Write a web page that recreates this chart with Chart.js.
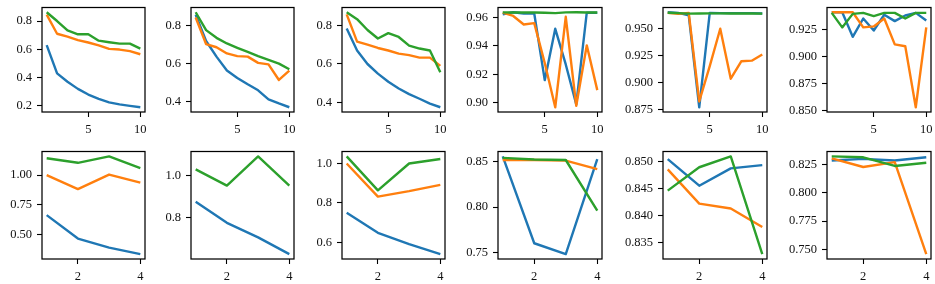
<!DOCTYPE html>
<html>
<head>
<meta charset="utf-8">
<script src="https://cdn.jsdelivr.net/npm/chart.js@4.4.1/dist/chart.umd.min.js"></script>
<style>
    html, body { margin: 0; padding: 0; background: #fff; }
    #fig { position: relative; width: 935px; height: 284px; overflow: hidden; }
    #fig canvas { position: absolute; }
</style>
</head>
<body>
<div id="fig"></div>
<script>
/* =========================================================
    DATOS
========================================================= */

const xLargo = [1, 2, 3, 4, 5, 6, 7, 8, 9, 10];
const xCorto = [1, 2, 3, 4];
const ticksXLargo = [5, 10];
const ticksXCorto = [2, 4];

// fila superior
const p1Azul    = [0.63, 0.43, 0.37, 0.32, 0.28, 0.25, 0.225, 0.21, 0.2, 0.19];
const p1Naranja = [0.845, 0.71, 0.69, 0.665, 0.648, 0.628, 0.603, 0.598, 0.587, 0.565];
const p1Verde   = [0.862, 0.8, 0.733, 0.706, 0.706, 0.661, 0.65, 0.64, 0.64, 0.605];
const p1TicksY  = [0.2, 0.4, 0.6, 0.8];
const p1Etiq    = ["0.2", "0.4", "0.6", "0.8"];

const p2Azul    = [0.86, 0.72, 0.637, 0.563, 0.524, 0.49, 0.458, 0.41, 0.388, 0.368];
const p2Naranja = [0.845, 0.704, 0.687, 0.654, 0.64, 0.637, 0.604, 0.596, 0.513, 0.563];
const p2Verde   = [0.873, 0.778, 0.737, 0.707, 0.684, 0.662, 0.64, 0.62, 0.6, 0.57];
const p2TicksY  = [0.4, 0.6, 0.8];
const p2Etiq    = ["0.4", "0.6", "0.8"];

const p3Azul    = [0.784, 0.67, 0.6, 0.55, 0.508, 0.473, 0.444, 0.42, 0.395, 0.376];
const p3Naranja = [0.857, 0.716, 0.7, 0.683, 0.67, 0.654, 0.646, 0.633, 0.633, 0.59];
const p3Verde   = [0.868, 0.832, 0.776, 0.732, 0.76, 0.74, 0.695, 0.68, 0.67, 0.557];
const p3TicksY  = [0.4, 0.6, 0.8];
const p3Etiq    = ["0.4", "0.6", "0.8"];

const p4Azul    = [0.9622, 0.9636, 0.9627, 0.9627, 0.916, 0.952, 0.927, 0.899, 0.9633, 0.9633];
const p4Naranja = [0.9633, 0.961, 0.955, 0.956, 0.928, 0.897, 0.9604, 0.898, 0.9404, 0.909];
const p4Verde   = [0.9635, 0.9634, 0.9634, 0.9634, 0.9633, 0.963, 0.9635, 0.9636, 0.9634, 0.9634];
const p4TicksY  = [0.90, 0.92, 0.94, 0.96];
const p4Etiq    = ["0.90", "0.92", "0.94", "0.96"];

const p5Azul    = [0.9653, 0.9647, 0.9624, 0.877, 0.9647, 0.9645, 0.9645, 0.9645, 0.9645, 0.9642];
const p5Naranja = [0.9647, 0.9638, 0.9647, 0.8824, 0.9153, 0.95, 0.9035, 0.9197, 0.9203, 0.926];
const p5Verde   = [0.9648, 0.9645, 0.964, 0.9642, 0.9643, 0.9643, 0.9642, 0.9642, 0.9642, 0.964];
const p5TicksY  = [0.875, 0.9, 0.925, 0.95];
const p5Etiq    = ["0.875", "0.900", "0.925", "0.950"];

const p6Azul    = [0.941, 0.941, 0.9183, 0.9352, 0.9241, 0.9387, 0.9328, 0.938, 0.9404, 0.9334];
const p6Naranja = [0.941, 0.941, 0.941, 0.927, 0.9279, 0.9352, 0.9113, 0.9096, 0.8532, 0.927];
const p6Verde   = [0.9404, 0.927, 0.9395, 0.9404, 0.9375, 0.9404, 0.9404, 0.9352, 0.9404, 0.9404];
const p6TicksY  = [0.85, 0.875, 0.9, 0.925];
const p6Etiq    = ["0.850", "0.875", "0.900", "0.925"];

// fila inferior
const p7Azul    = [0.664, 0.467, 0.39, 0.336];
const p7Naranja = [1.0, 0.883, 1.005, 0.937];
const p7Verde   = [1.142, 1.104, 1.158, 1.06];
const p7TicksY  = [0.5, 0.75, 1.0];
const p7Etiq    = ["0.50", "0.75", "1.00"];

const p8Azul    = [0.875, 0.773, 0.703, 0.622];
const p8Naranja = null;
const p8Verde   = [1.031, 0.953, 1.094, 0.953];
const p8TicksY  = [0.8, 1.0];
const p8Etiq    = ["0.8", "1.0"];

const p9Azul    = [0.75, 0.649, 0.592, 0.541];
const p9Naranja = [1.0, 0.832, 0.86, 0.892];
const p9Verde   = [1.036, 0.864, 1.0, 1.023];
const p9TicksY  = [0.6, 0.8, 1.0];
const p9Etiq    = ["0.6", "0.8", "1.0"];

const p10Azul    = [0.856, 0.76, 0.748, 0.853];
const p10Naranja = [0.852, 0.852, 0.8514, 0.842];
const p10Verde   = [0.8543, 0.8525, 0.852, 0.796];
const p10TicksY  = [0.75, 0.8, 0.85];
const p10Etiq    = ["0.75", "0.80", "0.85"];

const p11Azul    = [0.8504, 0.8455, 0.8487, 0.8493];
const p11Naranja = [0.8485, 0.8422, 0.8413, 0.8379];
const p11Verde   = [0.8446, 0.8489, 0.8509, 0.8329];
const p11TicksY  = [0.835, 0.84, 0.845, 0.85];
const p11Etiq    = ["0.835", "0.840", "0.845", "0.850"];

const p12Azul    = [0.8287, 0.8302, 0.8287, 0.8316];
const p12Naranja = [0.8307, 0.823, 0.8273, 0.7457];
const p12Verde   = [0.8324, 0.8316, 0.8239, 0.8267];
const p12TicksY  = [0.75, 0.775, 0.8, 0.825];
const p12Etiq    = ["0.750", "0.775", "0.800", "0.825"];

/* =========================================================
    LAYOUT
========================================================= */

const colIzq = [42, 191, 342, 498, 663, 827];
const colDer = [145, 294, 445, 602, 767, 931];
const filaArriba = [3, 147];
const filaAbajo = [112, 259];

const AZUL = "#1f77b4", NARANJA = "#ff7f0e", VERDE = "#2ca02c";
const FUENTE = "'Liberation Serif', 'DejaVu Serif', serif";

// caja negra alrededor del area (spines)
const marco = {
    id: "marco",
    afterDraw(chart) {
        const a = chart.chartArea, ctx = chart.ctx;
        ctx.save();
        ctx.strokeStyle = "#000";
        ctx.lineWidth = 1.25;
        ctx.strokeRect(a.left, a.top, a.right - a.left, a.bottom - a.top);
        ctx.restore();
    }
};

function rango(valores) {
    const mn = Math.min(...valores), mx = Math.max(...valores);
    const m = (mx - mn) * 0.05;
    return [mn - m, mx + m];
}

function panel(fila, col, xs, ticksX, azul, naranja, verde, ticksY, etiq) {
    const L = colIzq[col], R = colDer[col];
    const T = filaArriba[fila], B = filaAbajo[fila];
    const anchoY = Math.min(L, 48);
    const padT = 8, padR = 12, altoX = 28;

    const cv = document.createElement("canvas");
    const w = R - L + anchoY + padR, h = B - T + padT + altoX;
    cv.width = w; cv.height = h;
    cv.style.width = w + "px"; cv.style.height = h + "px";
    cv.style.left = (L - anchoY) + "px";
    cv.style.top = (T - padT) + "px";
    document.getElementById("fig").appendChild(cv);

    const series = [];
    if (azul) series.push({ d: azul, c: AZUL, o: 2 });
    if (naranja) series.push({ d: naranja, c: NARANJA, o: 1 });
    if (verde) series.push({ d: verde, c: VERDE, o: 0 });

    const todos = series.flatMap(s => s.d);
    const [yMin, yMax] = rango(todos);
    const [xMin, xMax] = rango(xs);

    new Chart(cv, {
        type: "line",
        data: {
            datasets: series.map(s => ({
                data: xs.map((x, i) => ({ x: x, y: s.d[i] })),
                borderColor: s.c,
                borderWidth: 2.4,
                pointRadius: 0,
                tension: 0,
                borderJoinStyle: "round",
                order: s.o
            }))
        },
        options: {
            responsive: false,
            animation: false,
            events: [],
            layout: { padding: { top: padT, right: padR, left: 0, bottom: 0 } },
            plugins: { legend: { display: false }, tooltip: { enabled: false } },
            scales: {
                x: {
                    type: "linear",
                    min: xMin, max: xMax,
                    afterBuildTicks: s => { s.ticks = ticksX.map(v => ({ value: v })); },
                    afterFit: s => { s.height = altoX; },
                    ticks: {
                        color: "#111", padding: 5, maxRotation: 0,
                        font: { family: FUENTE, size: 12.5 },
                        callback: v => String(v)
                    },
                    grid: { drawOnChartArea: false, drawTicks: true, tickLength: 5, tickColor: "#000", tickWidth: 1.1 },
                    border: { display: false }
                },
                y: {
                    type: "linear",
                    min: yMin, max: yMax,
                    afterBuildTicks: s => { s.ticks = ticksY.map(v => ({ value: v })); },
                    afterFit: s => { s.width = anchoY; },
                    ticks: {
                        color: "#111", padding: 5,
                        font: { family: FUENTE, size: 12.5 },
                        callback: (v, i) => etiq[i]
                    },
                    grid: { drawOnChartArea: false, drawTicks: true, tickLength: 5, tickColor: "#000", tickWidth: 1.1 },
                    border: { display: false }
                }
            }
        },
        plugins: [marco]
    });
}

/* =========================================================
    GRAFICAS
========================================================= */

panel(0, 0, xLargo, ticksXLargo, p1Azul, p1Naranja, p1Verde, p1TicksY, p1Etiq);
panel(0, 1, xLargo, ticksXLargo, p2Azul, p2Naranja, p2Verde, p2TicksY, p2Etiq);
panel(0, 2, xLargo, ticksXLargo, p3Azul, p3Naranja, p3Verde, p3TicksY, p3Etiq);
panel(0, 3, xLargo, ticksXLargo, p4Azul, p4Naranja, p4Verde, p4TicksY, p4Etiq);
panel(0, 4, xLargo, ticksXLargo, p5Azul, p5Naranja, p5Verde, p5TicksY, p5Etiq);
panel(0, 5, xLargo, ticksXLargo, p6Azul, p6Naranja, p6Verde, p6TicksY, p6Etiq);

panel(1, 0, xCorto, ticksXCorto, p7Azul, p7Naranja, p7Verde, p7TicksY, p7Etiq);
panel(1, 1, xCorto, ticksXCorto, p8Azul, p8Naranja, p8Verde, p8TicksY, p8Etiq);
panel(1, 2, xCorto, ticksXCorto, p9Azul, p9Naranja, p9Verde, p9TicksY, p9Etiq);
panel(1, 3, xCorto, ticksXCorto, p10Azul, p10Naranja, p10Verde, p10TicksY, p10Etiq);
panel(1, 4, xCorto, ticksXCorto, p11Azul, p11Naranja, p11Verde, p11TicksY, p11Etiq);
panel(1, 5, xCorto, ticksXCorto, p12Azul, p12Naranja, p12Verde, p12TicksY, p12Etiq);
</script>
</body>
</html>
